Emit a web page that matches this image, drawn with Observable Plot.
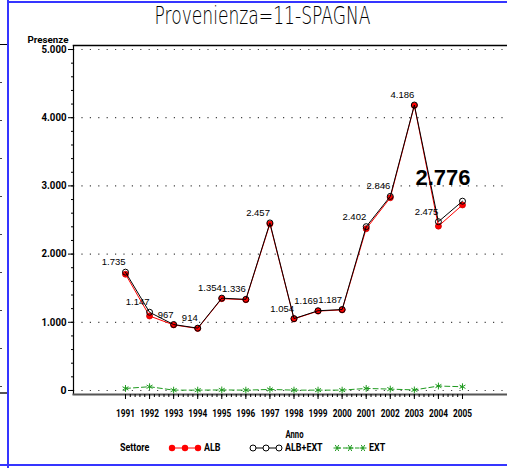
<!DOCTYPE html>
<html>
<head>
<meta charset="utf-8">
<script src="https://cdn.jsdelivr.net/npm/d3@7"></script>
<script src="https://cdn.jsdelivr.net/npm/@observablehq/plot@0.6"></script>
<style>
  html, body { margin: 0; padding: 0; background: #fff; }
  #wrap { position: relative; width: 507px; height: 468px; overflow: hidden; }
  #chart { position: absolute; left: 0; top: 0; }
  .blueV { position: absolute; left: 7px; top: 0; width: 2px; height: 468px; background: #3535ff; }
  .blueT { position: absolute; left: 8px; top: 1px; width: 499px; height: 2px; background: #3535ff; }
  .blueB { position: absolute; left: 0; top: 464px; width: 507px; height: 2px; background: #3535ff; }
  .stub { position: absolute; left: 0; top: 44px; width: 7px; height: 347px;
          border-top: 1px solid #000; border-bottom: 2px solid #555;
          background: repeating-linear-gradient(to bottom, transparent 0, transparent 37px, #444 37px, #444 38px) no-repeat;
          background-size: 2px 100%; }
  #legend { position: absolute; left: 0; top: 442px; width: 507px; height: 14px;
            font-family: Roboto, "DejaVu Sans", sans-serif;
            font-size: 10.5px; font-weight: bold; color: #000; }
  #legend span { position: absolute; top: -1px; transform: scaleX(0.85); transform-origin: left center; white-space: nowrap; }
  #legend svg { position: absolute; top: 0; }
</style>
</head>
<body>
<div id="wrap">
  <div id="chart"></div>
  <div id="legend"></div>
  <div class="stub"></div>
  <div class="blueV"></div>
  <div class="blueT"></div>
  <div class="blueB"></div>
</div>
<script>
const years = [1991, 1992, 1993, 1994, 1995, 1996, 1997, 1998, 1999, 2000, 2001, 2002, 2003, 2004, 2005];
const albExt = [1735, 1147, 967, 914, 1354, 1336, 2457, 1054, 1169, 1187, 2402, 2846, 4186, 2475, 2776];
const alb = [1705, 1092, 962, 909, 1346, 1331, 2442, 1049, 1164, 1182, 2372, 2826, 4178, 2410, 2721];
const ext = [30, 55, 5, 5, 8, 5, 15, 5, 5, 5, 30, 20, 8, 65, 55];
const yTicks = [0, 1000, 2000, 3000, 4000, 5000];
const seriesNames = ["ALB", "ALB+EXT", "EXT"];
const title = "Provenienza=11-SPAGNA";

const itLocale = d3.formatLocale({decimal: ",", thousands: ".", grouping: [3], currency: ["€", ""]});
const fmt = itLocale.format(",d");

const rows = years.map((year, i) => ({year, alb: alb[i], tot: albExt[i], ext: ext[i]}));
const lastRow = rows.slice(-1);
const otherRows = rows.slice(0, -1);

const sasFont = 'Roboto, "DejaVu Sans", sans-serif';
const red = "#ff0000", green = "#1f9a1f", black = "#000";

const chart = Plot.plot({
  width: 507,
  height: 468,
  marginLeft: 73,
  marginRight: 0,
  marginTop: 45,
  marginBottom: 74,
  style: {fontFamily: sasFont, background: "transparent", overflow: "visible"},
  x: {domain: [1988.84, 2006.87], axis: null},
  y: {domain: [-59, 5059], axis: null},
  marks: [
    Plot.gridY({ticks: yTicks, stroke: "#444", strokeOpacity: 1, strokeDasharray: "1.2,7.2", strokeWidth: 1.2}),
    Plot.frame({anchor: "top", stroke: black, strokeWidth: 1.5}),
    Plot.frame({anchor: "left", stroke: black, strokeWidth: 1.2}),
    Plot.frame({anchor: "bottom", stroke: "#555", strokeWidth: 2}),
    Plot.axisY({ticks: d3.range(0, 5001, 200), tickSize: 2, text: null, stroke: black, label: null}),
    Plot.axisY({ticks: yTicks, tickSize: 5, tickPadding: 2, tickFormat: fmt, fontSize: 10.5, fontWeight: "bold", label: null}),
    Plot.axisX({ticks: d3.range(1991, 2005.01, 0.2), tickSize: 3, text: null, anchor: "bottom", label: null}),
    Plot.axisX({ticks: years, tickSize: 5, tickPadding: 10, tickFormat: d => String(d), fontSize: 10, fontWeight: "bold", anchor: "bottom", label: null}),
    // ALB (red)
    Plot.line(rows, {x: "year", y: "alb", stroke: red, strokeWidth: 1}),
    Plot.dot(rows, {x: "year", y: "alb", r: 3, fill: red, stroke: "#d00000", strokeWidth: 0.8}),
    // ALB+EXT (black)
    Plot.line(rows, {x: "year", y: "tot", stroke: black, strokeWidth: 1}),
    Plot.dot(rows, {x: "year", y: "tot", r: 3, fill: "none", stroke: black, strokeWidth: 1}),
    // EXT (green)
    Plot.line(rows, {x: "year", y: "ext", stroke: green, strokeWidth: 1, strokeDasharray: "5,3"}),
    Plot.dot(rows, {x: "year", y: "ext", r: 3.2, symbol: "asterisk", stroke: green, strokeWidth: 1}),
    // data labels
    Plot.text(otherRows, {x: "year", y: "tot", text: d => fmt(d.tot), textAnchor: "end", dy: -10, fontSize: 9.5, fontFamily: '"Liberation Sans", Arial, sans-serif', fill: black}),
    Plot.text(lastRow, {x: "year", y: "tot", text: d => fmt(d.tot), textAnchor: "end", dx: 8, dy: -23, fontSize: 22, fontWeight: "bold", fontFamily: '"Liberation Sans", Arial, sans-serif', fill: black}),
    // titles
    Plot.text([title], {frameAnchor: "top", dx: -28, dy: -29, lineAnchor: "middle", fontSize: 24, fontWeight: 200, fontFamily: '"DejaVu Sans", sans-serif', fill: black}),
    Plot.text(["Presenze"], {frameAnchor: "top-left", textAnchor: "end", lineAnchor: "bottom", dx: -5, dy: -3, fontSize: 8.5, fontWeight: "bold", fill: black}),
    Plot.text(["Anno"], {frameAnchor: "bottom", dx: 4, dy: 40, lineAnchor: "middle", fontSize: 10.5, fontWeight: "bold", fill: black})
  ]
});

const squeeze = (test, len) => d3.select(chart).selectAll("text")
  .filter(function() { return test(this.textContent); })
  .attr("textLength", len)
  .attr("lengthAdjust", "spacingAndGlyphs");

squeeze(t => t === title, 216);
squeeze(t => /^\d{4}$/.test(t), 19);
squeeze(t => /^\d\.000$/.test(t), 25);
squeeze(t => t === "Presenze", 41);
squeeze(t => t === "Anno", 18);

document.getElementById("chart").appendChild(chart);

// legend
const legend = d3.select("#legend");
legend.append("span").style("left", "120px").text("Settore");
const items = [
  {name: seriesNames[0], x: 168, color: red, kind: "dot"},
  {name: seriesNames[1], x: 249, color: black, kind: "open"},
  {name: seriesNames[2], x: 333, color: green, kind: "star"}
];
for (const it of items) {
  const svg = legend.append("svg").attr("width", 34).attr("height", 12).style("left", it.x + "px").style("top", "0px");
  svg.append("line").attr("x1", 4).attr("x2", 30).attr("y1", 6).attr("y2", 6)
    .attr("stroke", it.color).attr("stroke-width", 1).attr("stroke-dasharray", it.kind === "star" ? "4,2" : null);
  for (const cx of [4, 17, 30]) {
    if (it.kind === "dot") svg.append("circle").attr("cx", cx).attr("cy", 6).attr("r", 3.2).attr("fill", it.color);
    else if (it.kind === "open") svg.append("circle").attr("cx", cx).attr("cy", 6).attr("r", 3).attr("fill", "#fff").attr("stroke", it.color);
    else {
      const g = svg.append("g").attr("stroke", it.color).attr("stroke-width", 1);
      for (const a of [0, 60, 120]) {
        const r = a * Math.PI / 180;
        g.append("line").attr("x1", cx - 3.5 * Math.cos(r)).attr("y1", 6 - 3.5 * Math.sin(r))
          .attr("x2", cx + 3.5 * Math.cos(r)).attr("y2", 6 + 3.5 * Math.sin(r));
      }
    }
  }
  legend.append("span").style("left", (it.x + 36) + "px").text(it.name);
}
</script>
</body>
</html>
